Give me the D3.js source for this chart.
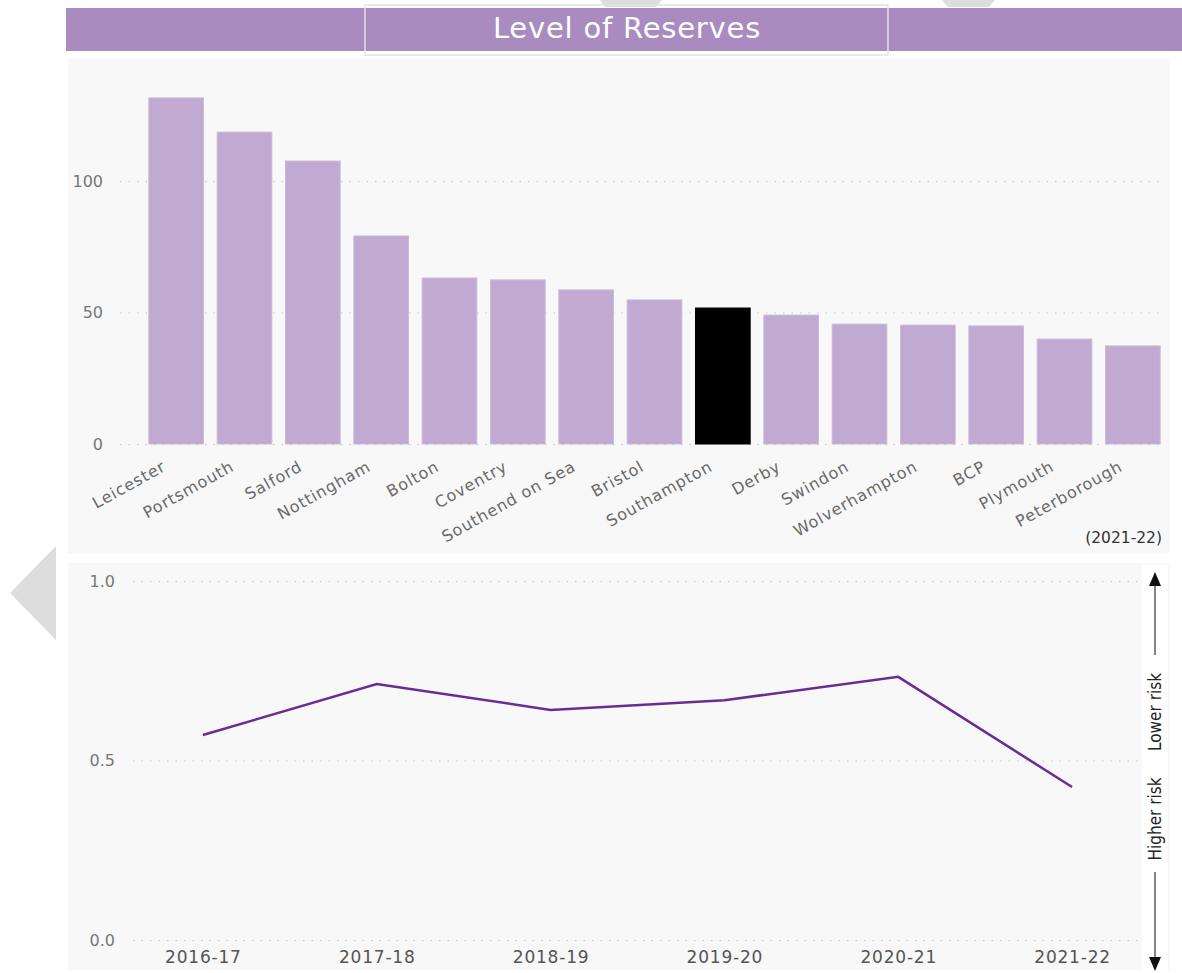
<!DOCTYPE html>
<html>
<head>
<meta charset="utf-8">
<script src="https://cdn.jsdelivr.net/npm/d3@7"></script>
<style>
  body { margin: 0; background: #ffffff; }
  svg { display: block; font-family: "DejaVu Sans", sans-serif; }
</style>
</head>
<body>
<svg id="drawing_region"></svg>
<script>
// bar chart data (2021-22)
const authorities = ["Leicester", "Portsmouth", "Salford", "Nottingham", "Bolton", "Coventry",
    "Southend on Sea", "Bristol", "Southampton", "Derby", "Swindon", "Wolverhampton",
    "BCP", "Plymouth", "Peterborough"];
const reserves = [131.6, 118.6, 107.6, 79.1, 63.1, 62.4, 58.6, 54.8, 51.7, 49.0, 45.6, 45.2, 44.9, 39.9, 37.3];
const highlighted = "Southampton";
const barTicks = [0, 50, 100];

// line chart data
const years = ["2016-17", "2017-18", "2018-19", "2019-20", "2020-21", "2021-22"];
const riskIndex = [0.571, 0.713, 0.641, 0.668, 0.733, 0.426];
const lineTicks = [0, 0.5, 1.0];

const FONT = '"DejaVu Sans", sans-serif';

const svg = d3.select('#drawing_region')
    .attr('width', 1182)
    .attr('height', 973);

// grey navigation shapes behind the page
svg.append('polygon').attr('points', '56,546 10,593 56,640').attr('fill', '#dddddd');
svg.append('polygon').attr('points', '600,0 662,0 656,7 605,7').attr('fill', '#dddddd');
svg.append('polygon').attr('points', '942,0 995,0 989,7 948,7').attr('fill', '#dddddd');

// title bar
svg.append('rect')
    .attr('x', 66).attr('y', 8).attr('width', 1116).attr('height', 43)
    .attr('fill', '#a98bbf');
svg.append('rect')
    .attr('x', 365).attr('y', 5).attr('width', 523).attr('height', 50)
    .attr('fill', 'none').attr('stroke', '#e4e0e8').attr('stroke-width', 1.5);
svg.append('text')
    .attr('x', 627).attr('y', 30)
    .attr('text-anchor', 'middle').attr('dominant-baseline', 'middle')
    .attr('font-family', FONT)
    .attr('fill', '#ffffff').attr('font-size', '29px')
    .attr('letter-spacing', '0.8px')
    .text('Level of Reserves');

// ---------- bar chart ----------
svg.append('rect')
    .attr('x', 68).attr('y', 58).attr('width', 1102).attr('height', 495)
    .attr('fill', '#f8f8f8');

const xscale = d3.scaleBand()
    .domain(authorities)
    .range([142, 1167])
    .paddingInner(0.2)
    .paddingOuter(0.1);

const yscale = d3.scaleLinear()
    .domain([0, 100])
    .range([444, 181]);

const yaxis = d3.axisLeft(yscale)
    .tickValues(barTicks)
    .tickSize(-(1165 - 120))
    .tickPadding(17)
    .tickFormat(d3.format('d'));

const yaxis_group = svg.append('g')
    .attr('transform', 'translate(120, 0)')
    .call(yaxis);
yaxis_group.select('.domain').remove();
yaxis_group.selectAll('.tick line')
    .attr('stroke', '#c4c4c4')
    .attr('stroke-dasharray', '1.5,7');
yaxis_group.selectAll('.tick text')
    .attr('font-family', FONT)
    .attr('fill', '#777777')
    .attr('font-size', '16px');

svg.append('g').selectAll('rect')
    .data(authorities)
    .join('rect')
    .attr('x', d => xscale(d))
    .attr('y', (d, i) => yscale(reserves[i]))
    .attr('width', xscale.bandwidth())
    .attr('height', (d, i) => yscale(0) - yscale(reserves[i]))
    .attr('fill', d => d === highlighted ? '#000000' : '#c1aad1')
    .attr('stroke', d => d === highlighted ? '#000000' : '#cdb9da')
    .attr('stroke-width', 1);

const xaxis = d3.axisBottom(xscale).tickSize(0);
const xaxis_group = svg.append('g')
    .attr('transform', 'translate(0, 444)')
    .call(xaxis);
xaxis_group.select('.domain').remove();
xaxis_group.selectAll('.tick text')
    .attr('x', 0).attr('y', 0).attr('dy', '0.35em')
    .attr('text-anchor', 'end')
    .attr('transform', 'translate(-12, 21) rotate(-29)')
    .attr('font-family', FONT)
    .attr('letter-spacing', '0.9px')
    .attr('fill', '#6a6a6a')
    .attr('font-size', '16px');

svg.append('text')
    .attr('x', 1162).attr('y', 538)
    .attr('text-anchor', 'end').attr('dominant-baseline', 'middle')
    .attr('font-family', FONT)
    .attr('fill', '#333333').attr('font-size', '15.5px')
    .text('(2021-22)');

// ---------- line chart ----------
svg.append('rect')
    .attr('x', 68).attr('y', 563).attr('width', 1102).attr('height', 407)
    .attr('fill', '#f8f8f8');

const xpoint = d3.scalePoint()
    .domain(years)
    .range([116, 1159])
    .padding(0.5);

const yline = d3.scaleLinear()
    .domain([0, 1])
    .range([940, 581]);

const ylaxis = d3.axisLeft(yline)
    .tickValues(lineTicks)
    .tickSize(-(1140 - 133))
    .tickPadding(18)
    .tickFormat(d3.format('.1f'));

const ylaxis_group = svg.append('g')
    .attr('transform', 'translate(133, 0)')
    .call(ylaxis);
ylaxis_group.select('.domain').remove();
ylaxis_group.selectAll('.tick line')
    .attr('stroke', '#c4c4c4')
    .attr('stroke-dasharray', '1.5,7');
ylaxis_group.selectAll('.tick text')
    .attr('font-family', FONT)
    .attr('fill', '#777777')
    .attr('font-size', '16px');

const xlaxis = d3.axisBottom(xpoint).tickSize(0).tickPadding(0);
const xlaxis_group = svg.append('g')
    .attr('transform', 'translate(0, 951)')
    .call(xlaxis);
xlaxis_group.select('.domain').remove();
xlaxis_group.selectAll('.tick text')
    .attr('font-family', FONT)
    .attr('letter-spacing', '0.8px')
    .attr('fill', '#555555')
    .attr('font-size', '17px');

const line = d3.line()
    .x((d, i) => xpoint(years[i]))
    .y(d => yline(d));

svg.append('path')
    .datum(riskIndex)
    .attr('d', line)
    .attr('fill', 'none')
    .attr('stroke', '#6a2c91')
    .attr('stroke-width', 2.5);

// risk direction strip
svg.append('rect')
    .attr('x', 1142).attr('y', 565).attr('width', 26).attr('height', 408)
    .attr('fill', '#ffffff');

const ax = 1155;
const NARROW = '"DejaVu Sans Condensed", "Liberation Sans Narrow", sans-serif';
const risk = svg.append('g');
risk.append('line')
    .attr('x1', ax).attr('x2', ax).attr('y1', 584).attr('y2', 655)
    .attr('stroke', '#333333').attr('stroke-width', 1.2);
risk.append('polygon')
    .attr('points', `${ax},572 ${ax - 6},586 ${ax + 6},586`)
    .attr('fill', '#111111');
risk.append('line')
    .attr('x1', ax).attr('x2', ax).attr('y1', 872).attr('y2', 958)
    .attr('stroke', '#333333').attr('stroke-width', 1.2);
risk.append('polygon')
    .attr('points', `${ax},971 ${ax - 6},957 ${ax + 6},957`)
    .attr('fill', '#111111');
risk.append('text')
    .attr('transform', `translate(${ax + 1}, 712) rotate(-90)`)
    .attr('text-anchor', 'middle').attr('dominant-baseline', 'middle')
    .attr('font-family', NARROW)
    .attr('fill', '#222222').attr('font-size', '17px')
    .text('Lower risk');
risk.append('text')
    .attr('transform', `translate(${ax + 1}, 819) rotate(-90)`)
    .attr('text-anchor', 'middle').attr('dominant-baseline', 'middle')
    .attr('font-family', NARROW)
    .attr('fill', '#222222').attr('font-size', '17px')
    .text('Higher risk');
</script>
</body>
</html>
